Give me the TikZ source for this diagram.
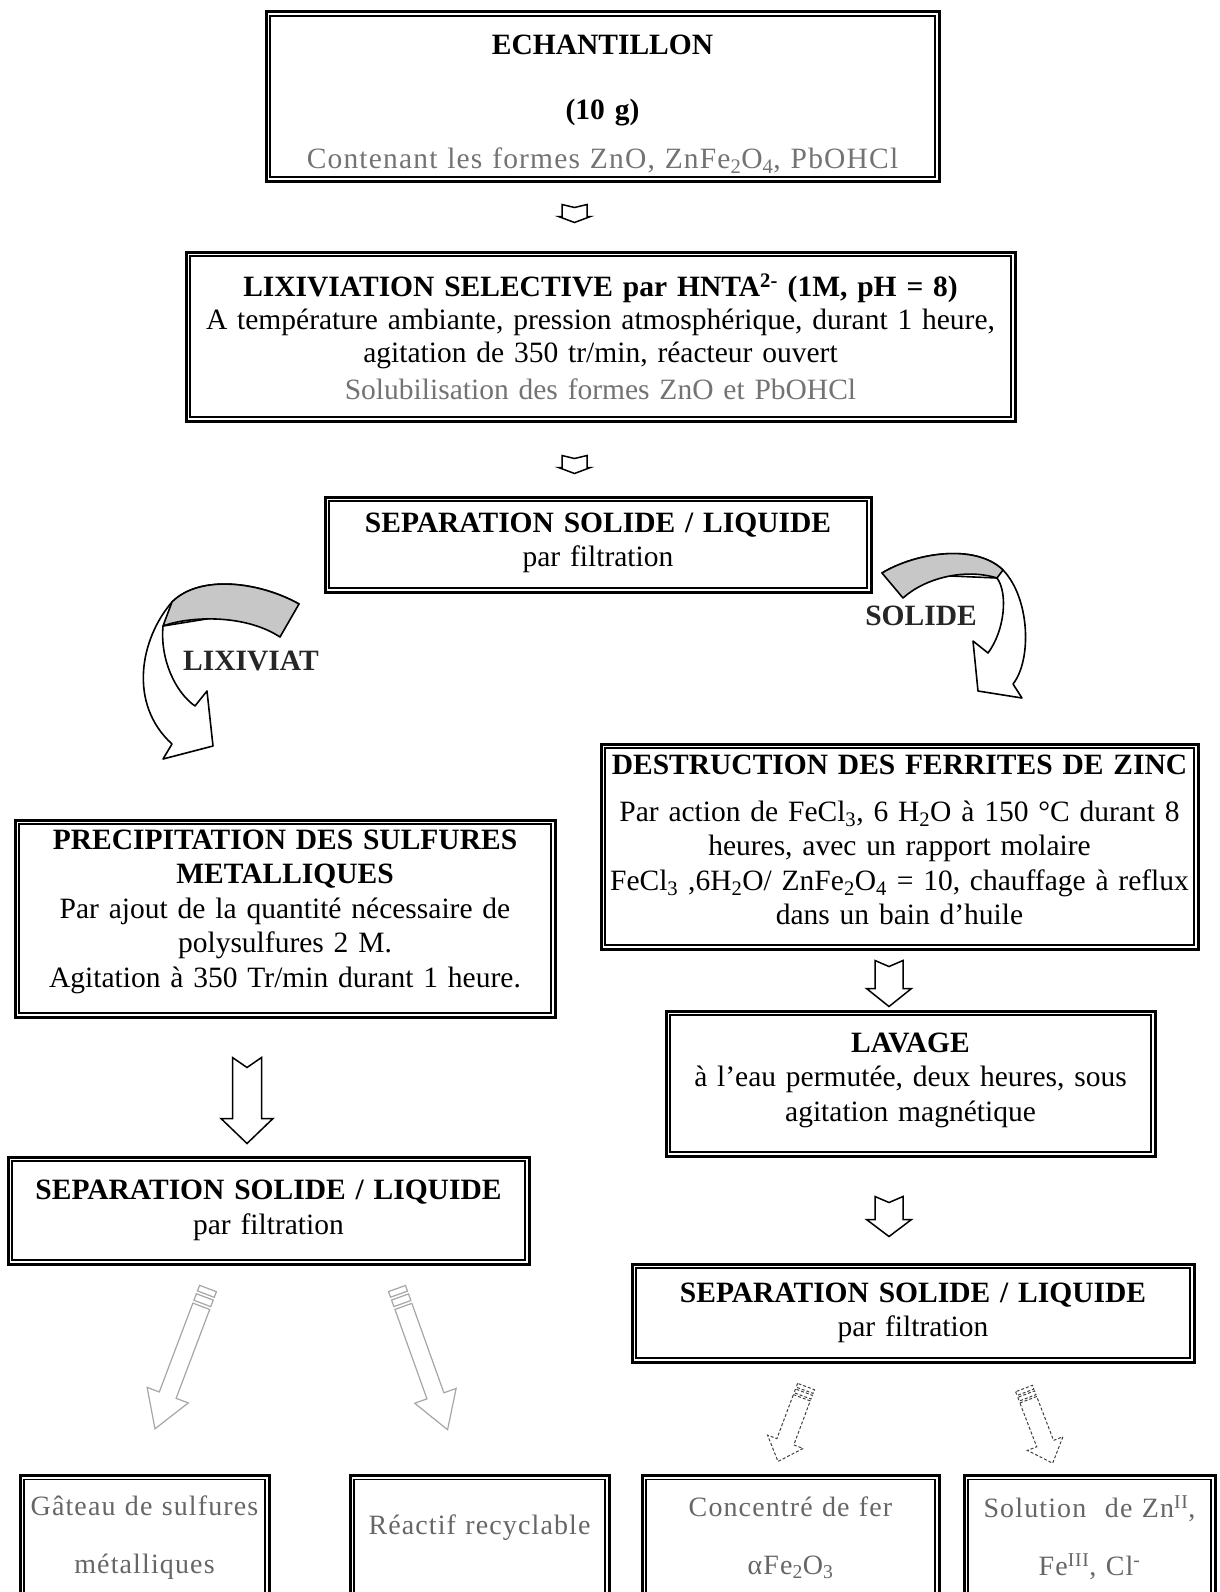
\documentclass[tikz,border=0pt]{standalone}
\usepackage{fontspec}
\setmainfont{Liberation Serif}
\newfontfamily\greyfont[LetterSpace=4]{Liberation Serif}
\usetikzlibrary{calc}

% notched block arrow pointing down: start, shaft half width, head half width, shaft length, head length, notch
\newcommand{\blockarrow}[7][]{%
  \draw[blk,#1] #2 ++(-#3,0) -- ++(#3,-#7) -- ++(#3,#7) -- ++(0,-#5)
    -- ++({#4-#3},0) -- ++(-#4,-#6) -- ++(-#4,#6) -- ++({#4-#3},0) -- cycle;}

\begin{document}
\begin{tikzpicture}[x=1pt, y=1pt,
  box/.style={draw, line width=3pt, align=center, inner sep=0pt,
    font=\fontsize{29.5}{34.5}\selectfont},
  result/.style={box, anchor=north, minimum height=124pt,
    font=\fontsize{28}{33}\selectfont\greyfont, text=black!60},
  blk/.style={draw, line width=1.5pt, fill=white, line join=miter},
  pale/.style={draw=black!35, line width=1.2pt},
  dashy/.style={draw=black!75, line width=1pt, dash pattern=on 3pt off 2pt},
  curl/.style={draw, line width=1.6pt, fill=white, line join=round},
  band/.style={draw, line width=1.6pt, fill=black!22, line join=round},
  lbl/.style={font=\fontsize{29.5}{33}\selectfont\bfseries, text=black!85}
]
\useasboundingbox (0,0) rectangle (1219,-1592);
\clip (0,0) rectangle (1219,-1592);

% main column
\node[box, minimum width=673pt, minimum height=169pt, text width=660pt] (echan) at (602.5,-96.5)
  {\rule{0pt}{35pt}\textbf{ECHANTILLON}\\[31pt] \textbf{(10 g)}\\[14pt]
   {\color{black!55}\greyfont Contenant les formes ZnO, ZnFe\textsubscript{2}O\textsubscript{4}, PbOHCl}};
\node[box, minimum width=829pt, minimum height=169pt, text width=815pt,
  font=\fontsize{29.5}{33}\selectfont] (lixiv) at (600.5,-336.5)
  {\textbf{LIXIVIATION SELECTIVE par HNTA\textsuperscript{2-} (1M, pH = 8)}\\
   A température ambiante, pression atmosphérique, durant 1 heure,\\
   agitation de 350 tr/min, réacteur ouvert\\[4pt]
   {\color{black!55}Solubilisation des formes ZnO et PbOHCl}};
\node[box, minimum width=546pt, minimum height=95pt, text width=536pt] (sepA) at (598,-544.5)
  {\textbf{SEPARATION SOLIDE / LIQUIDE}\\ par filtration\rule[-10pt]{0pt}{0pt}};

% left branch
\node[box, minimum width=540pt, minimum height=197pt, text width=530pt] (precip) at (285,-918.5)
  {\textbf{PRECIPITATION DES SULFURES}\\ \textbf{METALLIQUES}\\
   Par ajout de la quantité nécessaire de\\ polysulfures 2 M.\\
   Agitation à 350 Tr/min durant 1 heure.\rule[-20pt]{0pt}{0pt}};
\node[box, minimum width=521pt, minimum height=107pt, text width=511pt] (sepL) at (268.5,-1210.5)
  {\textbf{SEPARATION SOLIDE / LIQUIDE}\\ par filtration};

% right branch
\node[box, minimum width=597pt, minimum height=205pt, text width=587pt] (destr) at (899.5,-846.5)
  {\textbf{DESTRUCTION DES FERRITES DE ZINC}\\[12pt]
   Par action de FeCl\textsubscript{3}, 6 H\textsubscript{2}O à 150 °C durant 8\\
   heures, avec un rapport molaire\\
   FeCl\textsubscript{3} ,6H\textsubscript{2}O/ ZnFe\textsubscript{2}O\textsubscript{4} = 10, chauffage à reflux\\
   dans un bain d’huile\rule[-13pt]{0pt}{0pt}};
\node[box, minimum width=489pt, minimum height=145pt, text width=479pt] (lavage) at (910.5,-1083.5)
  {\textbf{LAVAGE}\\ à l’eau permutée, deux heures, sous\\ agitation magnétique\rule[-13pt]{0pt}{0pt}};
\node[box, minimum width=562pt, minimum height=98pt, text width=552pt] (sepR) at (913,-1313)
  {\textbf{SEPARATION SOLIDE / LIQUIDE}\\ par filtration};

% products
\node[result, minimum width=249pt, text width=240pt] (gateau) at (144.5,-1474)
  {Gâteau de sulfures\\[25pt] métalliques};
\node[result, minimum width=259pt, text width=250pt] (reactif) at (479.5,-1474)
  {Réactif recyclable\rule[-26pt]{0pt}{0pt}};
\node[result, minimum width=297pt, text width=288pt] (concentre) at (790.5,-1474)
  {Concentré de fer\\[25pt] αFe\textsubscript{2}O\textsubscript{3}};
\node[result, minimum width=251pt, text width=242pt] (solution) at (1089.5,-1474)
  {Solution~ de Zn\textsuperscript{II},\\[25pt] Fe\textsuperscript{III}, Cl\textsuperscript{-}};

% inner line of the double borders
\foreach \b in {echan,lixiv,sepA,precip,sepL,destr,lavage,sepR,gateau,reactif,concentre,solution}
  \draw[line width=1.3pt] ($(\b.south west)+(5.5,5.5)$) rectangle ($(\b.north east)+(-5.5,-5.5)$);

% straight block arrows
\blockarrow{($(echan.south)+(-28,-22)$)}{12.5}{16}{12}{6}{3}
\blockarrow{($(lixiv.south)+(-26,-33)$)}{12.5}{16}{12}{6}{3}
\blockarrow{($(destr.south)+(-10.5,-10)$)}{14}{22.5}{28}{18}{6}
\blockarrow{($(lavage.south)+(-21.5,-39)$)}{14}{22.5}{23}{17}{6}
\blockarrow{($(precip.south)+(-38,-39)$)}{14.5}{26}{61}{25}{10}

% curved arrow to the lixiviat
\draw[curl] (299,-604) .. controls (260,-582) and (200,-574) .. (172,-602)
  .. controls (140,-639) and (128,-704) .. (172,-744)
  -- (163,-759) -- (213,-746) -- (207,-691) -- (195,-706)
  .. controls (175,-692) and (160,-659) .. (163,-626) -- cycle;
\draw[band] (299,-604) .. controls (260,-582) and (200,-574) .. (172,-602)
  -- (163,-626) .. controls (190,-616) and (245,-614) .. (280,-637) -- cycle;
\node[lbl] (lixlbl) at (251,-661) {LIXIVIAT};

% curved arrow to the solid
\draw[curl] (882,-573) .. controls (915,-553) and (975,-543) .. (1003,-570)
  .. controls (1030,-598) and (1032,-660) .. (1013,-684)
  -- (1022,-698) -- (978,-691) -- (973,-641) -- (988,-653)
  .. controls (1005,-630) and (1008,-593) .. (997,-578) -- cycle;
\draw[band] (882,-573) .. controls (915,-553) and (975,-543) .. (1003,-570)
  -- (997,-578) .. controls (965,-568) and (925,-578) .. (903,-598) -- cycle;
\node[lbl] (sollbl) at (921,-616) {SOLIDE};

% pale arrows under the left separation
\begin{scope}[shift={($(sepL.south)+(-60.5,-23)$)}, rotate=-20.7]
  \draw[pale] (-9,0) rectangle (9,-6);
  \draw[pale] (-9,-9) rectangle (9,-16);
  \blockarrow[pale]{(0,-19)}{9}{22}{95}{36}{0}
\end{scope}
\begin{scope}[shift={($(sepL.south)+(128.5,-23)$)}, rotate=19.7]
  \draw[pale] (-9,0) rectangle (9,-6);
  \draw[pale] (-9,-9) rectangle (9,-16);
  \blockarrow[pale]{(0,-19)}{9}{22}{95}{36}{0}
\end{scope}

% dashed arrows under the right separation
\begin{scope}[shift={($(sepR.south)+(-107,-23)$)}, rotate=-20.5]
  \draw[dashy] (-9,0) rectangle (9,-4);
  \draw[dashy] (-9,-6) rectangle (9,-10);
  \blockarrow[dashy]{(0,-12)}{9}{19}{47}{21}{0}
\end{scope}
\begin{scope}[shift={($(sepR.south)+(111,-25)$)}, rotate=21]
  \draw[dashy] (-9,0) rectangle (9,-4);
  \draw[dashy] (-9,-6) rectangle (9,-10);
  \blockarrow[dashy]{(0,-12)}{9}{19}{47}{21}{0}
\end{scope}
\end{tikzpicture}
\end{document}
